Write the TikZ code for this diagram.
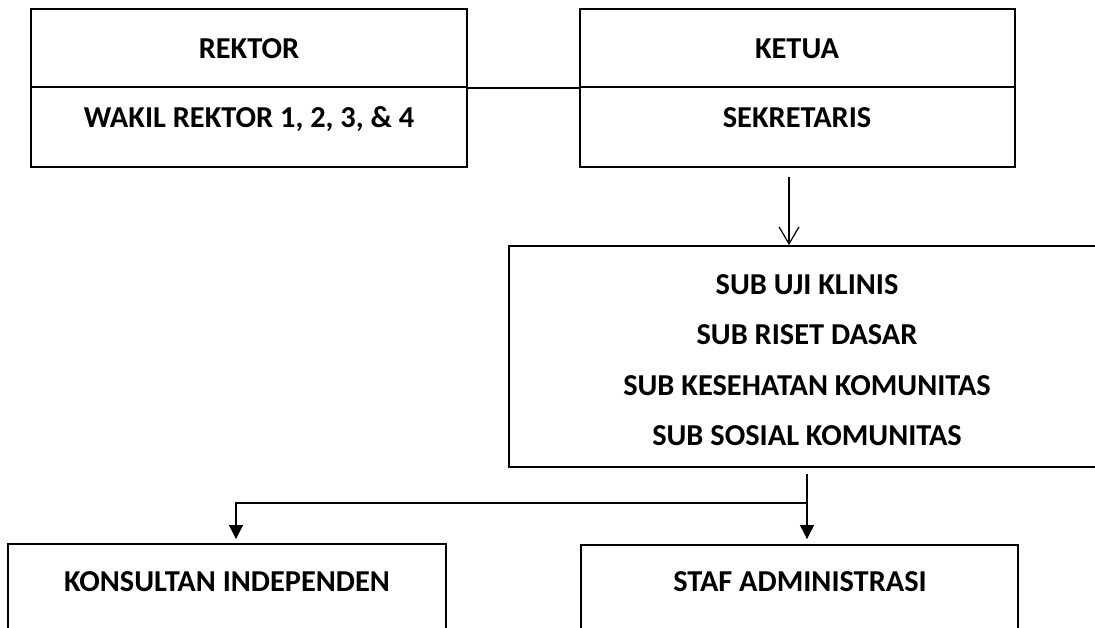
\documentclass[tikz,border=0pt]{standalone}
\usepackage{fontspec}
\setmainfont{Carlito}
\usetikzlibrary{arrows.meta}
\begin{document}
\begin{tikzpicture}[x=0.02cm, y=-0.02cm,
    box/.style={draw, line width=1.1pt, inner sep=0pt},
    lbl/.style={font=\fontsize{17.3}{20}\selectfont\bfseries, inner sep=0pt, text height=0.63em, text depth=0pt},
    link/.style={line width=0.7pt},
    solid tip/.style={-{Triangle[length=0.28cm, width=0.28cm]}},
    open tip/.style={-{Straight Barb[length=0.34cm, width=0.4cm]}}]
            \useasboundingbox (0,0) rectangle (1095,628);
            \clip (0,0) rectangle (1095,628);
            \node[box, minimum width=8.72cm, minimum height=1.56cm] (rektor) at (249,48) {};
            \node[box, minimum width=8.72cm, minimum height=1.60cm] (wakil) at (249,127) {};
            \node[box, minimum width=8.70cm, minimum height=1.56cm] (ketua) at (797.5,48) {};
            \node[box, minimum width=8.70cm, minimum height=1.60cm] (sekretaris) at (797.5,127) {};
            \node[box, minimum width=11.92cm, minimum height=4.42cm] (sub) at (807,356.5) {};
            \node[box, minimum width=8.76cm, minimum height=1.76cm] (konsultan) at (227,588) {};
            \node[box, minimum width=8.74cm, minimum height=1.74cm] (staf) at (799.5,588.5) {};
            \node[lbl] (tRektor) at (249,53) {REKTOR};
            \node[lbl] (tWakil) at (249,122) {WAKIL REKTOR 1, 2, 3, \& 4};
            \node[lbl] (tKetua) at (797,53) {KETUA};
            \node[lbl] (tSekretaris) at (797,122) {SEKRETARIS};
            \node[lbl] (tKlinis) at (807,289) {SUB UJI KLINIS};
            \node[lbl] (tRiset) at (807,339) {SUB RISET DASAR};
            \node[lbl] (tKesehatan) at (807,390) {SUB KESEHATAN KOMUNITAS};
            \node[lbl] (tSosial) at (807,440) {SUB SOSIAL KOMUNITAS};
            \node[lbl] (tKonsultan) at (227,586) {KONSULTAN INDEPENDEN};
            \node[lbl] (tStaf) at (800,586) {STAF ADMINISTRASI};
            \draw[link] (rektor.south east) -- (ketua.south west);
            \coordinate (down) at (789,177);
            \draw[link, open tip] (down) -- (down |- sub.north);
            \coordinate (fork) at (807,474);
            \coordinate (split) at (807,503);
            \coordinate (kdrop) at (236,503);
            \draw[link, solid tip, shorten >=0.1cm] (fork) -- (fork |- staf.north);
            \draw[link, solid tip, shorten >=0.08cm] (split) -- (kdrop) -- (kdrop |- konsultan.north);
        \end{tikzpicture}
\end{document}
